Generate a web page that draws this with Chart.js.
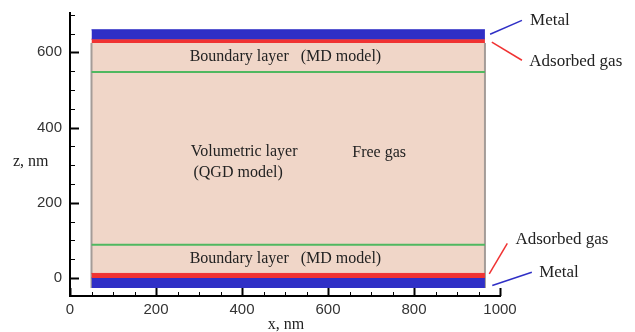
<!DOCTYPE html>
<html>
<head>
<meta charset="utf-8">
<script src="https://cdn.jsdelivr.net/npm/chart.js@4/dist/chart.umd.min.js"></script>
<style>
  html, body { margin: 0; padding: 0; background: #fff; }
  #wrap { width: 635px; height: 332px; position: relative; }
</style>
</head>
<body>
<div id="wrap"><canvas id="chart"></canvas></div>
<script>
// axes
const xTicks = [0, 200, 400, 600, 800, 1000];
const zTicks = [0, 200, 400, 600];
const minorStep = 50;

// slab geometry, nm
const domainX = [50, 965];
const metalBottom = [-27, 0];
const adsorbedBottom = [0, 12];
const freeGasZ = [12, 625];
const boundaryZ = [88, 548];
const adsorbedTop = [625, 635];
const metalTop = [635, 660];

// leader lines (x pairs, z pairs), listed label end first
const leaderMetalTopX = [1051, 977];
const leaderMetalTopZ = [685, 648];
const leaderAdsTopX = [1051, 981];
const leaderAdsTopZ = [579, 627];
const leaderAdsBotX = [1017, 975];
const leaderAdsBotZ = [92, 11];
const leaderMetalBotX = [1074, 982];
const leaderMetalBotZ = [15, -20];

// text labels
const innerLabels = ["Boundary layer   (MD model)", "Boundary layer   (MD model)", "Volumetric layer", "(QGD model)", "Free gas"];
const innerX = [501, 501, 405, 391, 719];
const innerZ = [589, 50, 335, 280, 334];
const sideLabels = ["Metal", "Adsorbed gas", "Adsorbed gas", "Metal"];
const sideX = [1070, 1068, 1036, 1091];
const sideZ = [684, 576, 101, 15];

const BLUE = "#2f2fc6";
const RED = "#f03232";
const GREEN = "#4fb860";
const PEACH = "#f0d6c8";

function hline(z) {
  return [{ x: domainX[0], y: z }, { x: domainX[1], y: z }];
}
function band(zr, color) {
  return { data: hline(zr[1]), fill: { value: zr[0] }, backgroundColor: color, borderColor: color, borderWidth: 1, pointRadius: 0 };
}
function pairs(xs, zs) {
  return xs.map((x, i) => ({ x: x, y: zs[i] }));
}
function leader(xs, zs, color) {
  return { data: pairs(xs, zs), borderColor: color, borderWidth: 1.5, pointRadius: 0, fill: false, clip: false };
}

// draws inward tick marks, axis titles and text labels
const decorations = {
  id: "decorations",
  afterDraw(chart) {
    const ctx = chart.ctx;
    const xs = chart.scales.x, ys = chart.scales.y;
    const area = chart.chartArea;
    ctx.save();
    ctx.strokeStyle = "#000";
    for (let v = xs.min; v <= xs.max; v += minorStep) {
      const px = Math.round(xs.getPixelForValue(v)) + 0.5;
      const len = xTicks.includes(v) ? 8 : 4;
      ctx.lineWidth = xTicks.includes(v) ? 2 : 1;
      ctx.beginPath(); ctx.moveTo(px, area.bottom); ctx.lineTo(px, area.bottom - len); ctx.stroke();
    }
    for (let v = Math.ceil(ys.min / minorStep) * minorStep; v <= ys.max; v += minorStep) {
      const py = Math.round(ys.getPixelForValue(v)) + 0.5;
      const len = zTicks.includes(v) ? 9 : 5;
      ctx.lineWidth = zTicks.includes(v) ? 2 : 1;
      ctx.beginPath(); ctx.moveTo(area.left, py); ctx.lineTo(area.left + len, py); ctx.stroke();
    }

    ctx.fillStyle = "#222";
    ctx.textBaseline = "middle";
    ctx.font = "16px 'Liberation Serif', 'Times New Roman', serif";
    ctx.textAlign = "center";
    innerLabels.forEach((t, i) => {
      ctx.fillText(t, xs.getPixelForValue(innerX[i]), ys.getPixelForValue(innerZ[i]));
    });
    ctx.font = "17px 'Liberation Serif', 'Times New Roman', serif";
    ctx.textAlign = "left";
    sideLabels.forEach((t, i) => {
      ctx.fillText(t, xs.getPixelForValue(sideX[i]), ys.getPixelForValue(sideZ[i]));
    });

    ctx.font = "16px 'Liberation Serif', 'Times New Roman', serif";
    ctx.textAlign = "left";
    ctx.fillText("z, nm", 13, 162);
    ctx.textAlign = "center";
    ctx.fillText("x, nm", (area.left + area.right) / 2 + 1, 325);
    ctx.restore();
  }
};

// dataset 0 is painted last (on top)
const datasets = [
  leader(leaderMetalTopX, leaderMetalTopZ, BLUE),
  leader(leaderAdsTopX, leaderAdsTopZ, RED),
  leader(leaderAdsBotX, leaderAdsBotZ, RED),
  leader(leaderMetalBotX, leaderMetalBotZ, BLUE),
  { data: hline(boundaryZ[0]), borderColor: GREEN, borderWidth: 2, pointRadius: 0, fill: false },
  { data: hline(boundaryZ[1]), borderColor: GREEN, borderWidth: 2, pointRadius: 0, fill: false },
  band(metalTop, BLUE),
  band(adsorbedTop, RED),
  band(adsorbedBottom, RED),
  band(metalBottom, BLUE),
  { data: [{ x: domainX[0], y: metalBottom[0] }, { x: domainX[0], y: adsorbedTop[0] }], borderColor: "#a49c98", borderWidth: 2, pointRadius: 0, fill: false },
  { data: [{ x: domainX[1], y: metalBottom[0] }, { x: domainX[1], y: adsorbedTop[0] }], borderColor: "#a49c98", borderWidth: 2, pointRadius: 0, fill: false },
  band(freeGasZ, PEACH)
];

const tickFont = { family: "'Liberation Sans', Arial, sans-serif", size: 15 };

new Chart(document.getElementById("chart"), {
  type: "line",
  data: { datasets: datasets },
  options: {
    responsive: true,
    maintainAspectRatio: false,
    animation: false,
    layout: { padding: { top: 12, right: 135, left: 0, bottom: 0 } },
    plugins: { legend: { display: false }, tooltip: { enabled: false } },
    scales: {
      x: {
        type: "linear",
        min: 0,
        max: 1000,
        afterBuildTicks: s => { s.ticks = xTicks.map(v => ({ value: v })); },
        afterFit: s => { s.height = 36; },
        grid: { display: false, drawTicks: false },
        border: { display: true, color: "#000", width: 2 },
        ticks: { color: "#333", padding: 5, maxRotation: 0, font: tickFont, callback: v => String(v) }
      },
      y: {
        type: "linear",
        min: -48,
        max: 706,
        afterBuildTicks: s => { s.ticks = zTicks.map(v => ({ value: v })); },
        afterFit: s => { s.width = 70; },
        grid: { display: false, drawTicks: false },
        border: { display: true, color: "#000", width: 2 },
        ticks: { color: "#333", padding: 8, font: Object.assign({ lineHeight: 0.6 }, tickFont), callback: v => String(v) }
      }
    }
  },
  plugins: [decorations]
});
</script>
</body>
</html>
